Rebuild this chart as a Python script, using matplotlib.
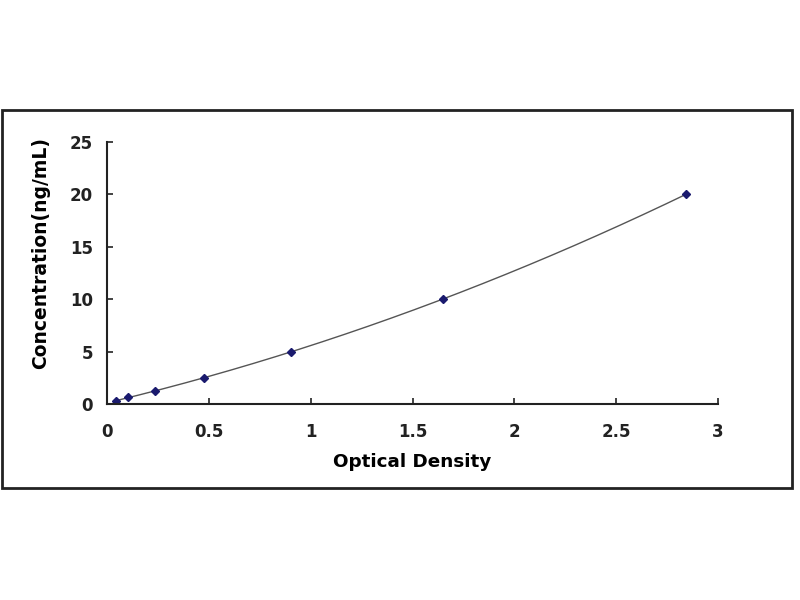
import numpy as np
import matplotlib.pyplot as plt
from matplotlib.patches import Rectangle

# standard curve readings
od = [0.045, 0.105, 0.236, 0.478, 0.905, 1.648, 2.842]
conc = [0.312, 0.625, 1.25, 2.5, 5, 10, 20]

x_ticks = [0, 0.5, 1, 1.5, 2, 2.5, 3]
x_labels = ['0', '0.5', '1', '1.5', '2', '2.5', '3']
y_ticks = [0, 5, 10, 15, 20, 25]

plt.rcParams['font.family'] = ['DejaVu Sans']
plt.rcParams['font.weight'] = 'bold'

fig = plt.figure(figsize=(8, 6), dpi=100)
fig.patches.append(Rectangle((0.003, 1 - 488 / 600), 0.987, 378 / 600,
                             transform=fig.transFigure, fill=False,
                             edgecolor='#222222', linewidth=2))

ax = fig.add_axes([107 / 800, 1 - 404 / 600, 611 / 800, 262 / 600])

# trendline from the standards
coef = np.polyfit(od, conc, 2)
xs = np.linspace(od[0], od[-1], 200)
ax.plot(xs, np.polyval(coef, xs), color='#555555', linewidth=1)
ax.plot(od, conc, linestyle='none', marker='D', markersize=4.5,
        color='#1a1a6e')

ax.set_xlim(0, 3)
ax.set_ylim(0, 25)
ax.set_xticks(x_ticks)
ax.set_xticklabels(x_labels)
ax.set_yticks(y_ticks)
ax.tick_params(direction='in', length=4, width=1.2, labelsize=12,
               colors='#222222')
ax.tick_params(axis='x', pad=14)
ax.tick_params(axis='y', pad=10)
for s in ['top', 'right']:
    ax.spines[s].set_visible(False)
for s in ['left', 'bottom']:
    ax.spines[s].set_linewidth(1.5)
    ax.spines[s].set_color('#222222')

fig.text(412 / 800, 1 - 462 / 600, 'Optical Density',
         ha='center', va='center', fontsize=13.2, fontweight='bold')
fig.text(41 / 800, 1 - 253 / 600, 'Concentration(ng/mL)', rotation=90,
         ha='center', va='center', fontsize=13.5, fontweight='bold')

fig.savefig('out.png', dpi=100)
